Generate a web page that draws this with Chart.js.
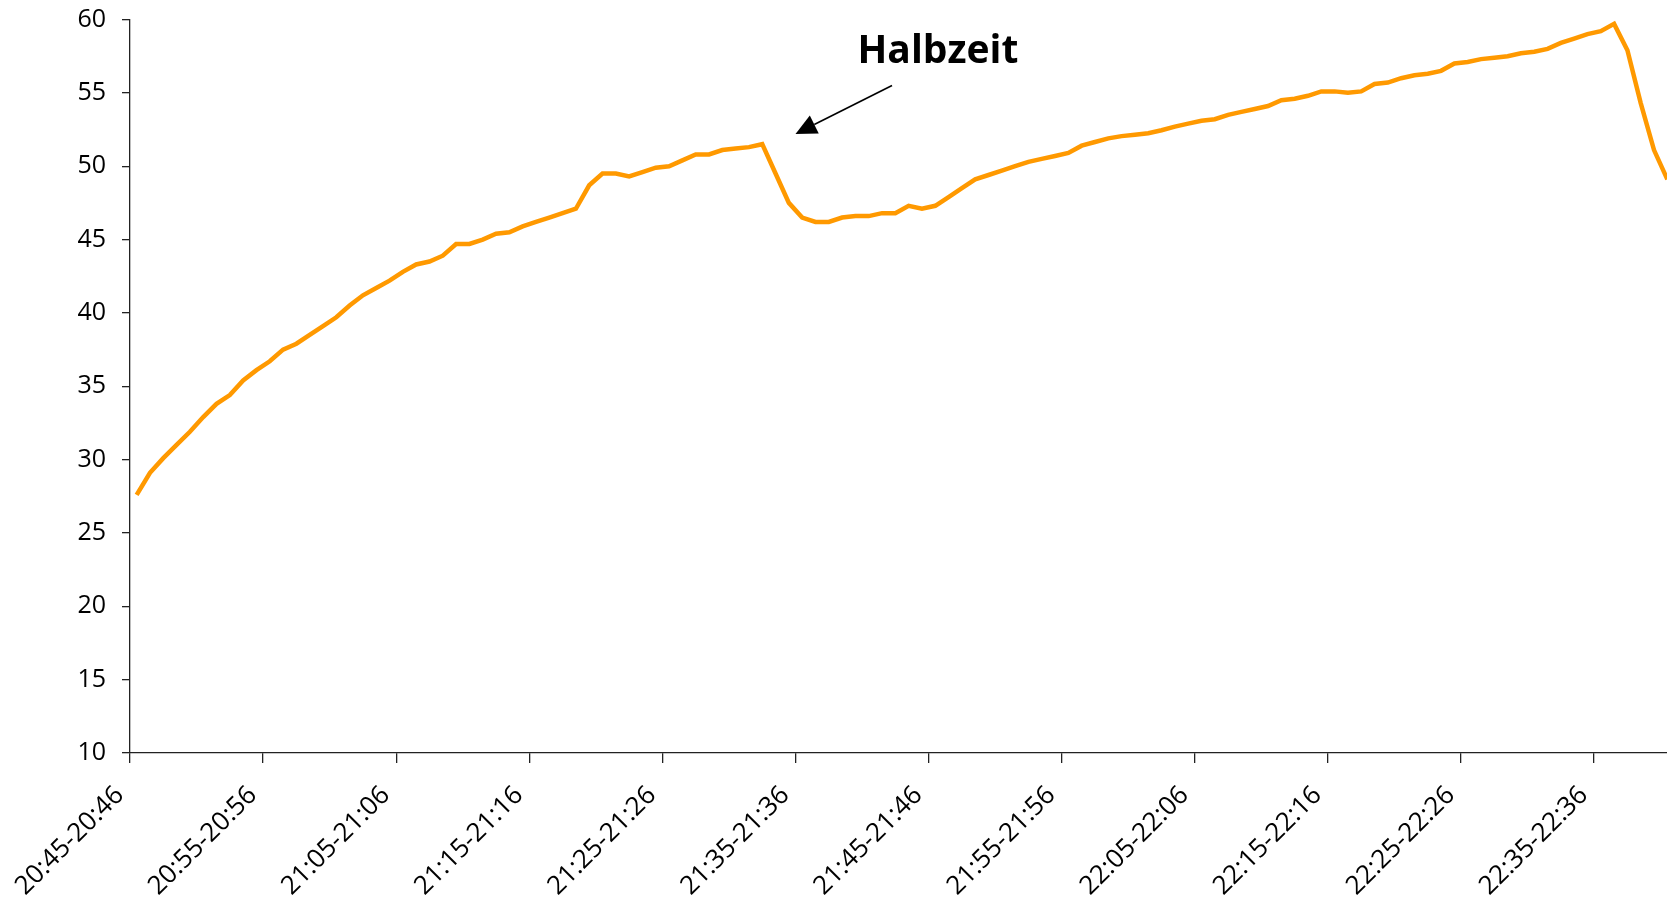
<!DOCTYPE html>
<html>
<head>
<meta charset="utf-8">
<script src="https://cdn.jsdelivr.net/npm/chart.js@4.4.1/dist/chart.umd.min.js"></script>
<style>
  html, body { margin: 0; padding: 0; background: #fff; overflow: hidden; }
  #wrap { width: 1680px; height: 900px; }
</style>
</head>
<body>
<div id="wrap"><canvas id="chart" width="1680" height="900"></canvas></div>
<script>
// one reading per minute, first slot is 20:45-20:46
const startHour = 20;
const startMinute = 45;

// temperature readings (°C)
const temperatures = [
    27.6, 29.1, 30.1, 31.0, 31.9, 32.9, 33.8, 34.4, 35.4, 36.1,
    36.7, 37.5, 37.9, 38.5, 39.1, 39.7, 40.5, 41.2, 41.7, 42.2,
    42.8, 43.3, 43.5, 43.9, 44.7, 44.7, 45.0, 45.4, 45.5, 45.9,
    46.2, 46.5, 46.8, 47.1, 48.7, 49.5, 49.5, 49.3, 49.6, 49.9,
    50.0, 50.4, 50.8, 50.8, 51.1, 51.2, 51.3, 51.5, 49.5, 47.5,
    46.5, 46.2, 46.2, 46.5, 46.6, 46.6, 46.8, 46.8, 47.3, 47.1,
    47.3, 47.9, 48.5, 49.1, 49.4, 49.7, 50.0, 50.3, 50.5, 50.7,
    50.9, 51.4, 51.65, 51.9, 52.05, 52.15, 52.25, 52.45, 52.7, 52.9,
    53.1, 53.2, 53.5, 53.7, 53.9, 54.1, 54.5, 54.6, 54.8, 55.1,
    55.1, 55.0, 55.1, 55.6, 55.7, 56.0, 56.2, 56.3, 56.5, 57.0,
    57.1, 57.3, 57.4, 57.5, 57.7, 57.8, 58.0, 58.4, 58.7, 59.0,
    59.2, 59.7, 57.9, 54.3, 51.1, 49.1
];

const yMin = 10;
const yMax = 60;
const yStep = 5;
const labelEvery = 10;

// "Halbzeit" note, in data units (category index, °C)
const noteText = 'Halbzeit';
const noteAt = [60.2, 57.8];
const arrowFrom = [56.75, 55.5];
const arrowTip = [49.5, 52.2];

const pad = n => String(n).padStart(2, '0');
const slotLabel = i => {
    const a = startHour * 60 + startMinute + i;
    const b = a + 1;
    return pad(Math.floor(a / 60)) + ':' + pad(a % 60) + '-' + pad(Math.floor(b / 60)) + ':' + pad(b % 60);
};
const labels = temperatures.map((_, i) => slotLabel(i));

const axisColor = '#222';

const halbzeitNote = {
    id: 'halbzeitNote',
    afterDatasetsDraw(chart) {
        const { ctx, scales: { x, y } } = chart;
        const tx = x.getPixelForValue(arrowTip[0]), ty = y.getPixelForValue(arrowTip[1]);
        const fx = x.getPixelForValue(arrowFrom[0]), fy = y.getPixelForValue(arrowFrom[1]);
        const ang = Math.atan2(fy - ty, fx - tx);
        const headLen = 21, headHalf = 10;
        const bx = tx + Math.cos(ang) * headLen, by = ty + Math.sin(ang) * headLen;

        ctx.save();
        ctx.strokeStyle = '#000';
        ctx.fillStyle = '#000';
        ctx.lineWidth = 1.6;
        ctx.beginPath();
        ctx.moveTo(fx, fy);
        ctx.lineTo(bx, by);
        ctx.stroke();

        ctx.beginPath();
        ctx.moveTo(tx, ty);
        ctx.lineTo(bx - Math.sin(ang) * headHalf, by + Math.cos(ang) * headHalf);
        ctx.lineTo(bx + Math.sin(ang) * headHalf, by - Math.cos(ang) * headHalf);
        ctx.closePath();
        ctx.fill();

        ctx.font = "bold 39px 'Open Sans', sans-serif";
        ctx.textAlign = 'center';
        ctx.textBaseline = 'middle';
        ctx.fillText(noteText, x.getPixelForValue(noteAt[0]), y.getPixelForValue(noteAt[1]));
        ctx.restore();
    }
};

Chart.defaults.font.family = "'Open Sans', sans-serif";
Chart.defaults.color = '#000';

new Chart(document.getElementById('chart'), {
    type: 'line',
    data: {
        labels: labels,
        datasets: [{
            data: temperatures,
            borderColor: '#FF9900',
            borderWidth: 4.5,
            pointRadius: 0,
            tension: 0,
            fill: false
        }]
    },
    options: {
        responsive: false,
        animation: false,
        layout: { padding: { top: 19.5, right: 6, bottom: 0, left: 0 } },
        plugins: {
            legend: { display: false },
            tooltip: { enabled: false }
        },
        scales: {
            x: {
                type: 'category',
                offset: true,
                afterFit: s => {
                    s.height = 147;
                    s.paddingLeft = 0;
                    s.paddingRight = 0;
                },
                border: { display: true, color: axisColor, width: 1.3 },
                grid: {
                    offset: true,
                    drawOnChartArea: false,
                    tickLength: 10,
                    lineWidth: 1.3,
                    color: c => c.index % labelEvery === 0 ? axisColor : 'rgba(0,0,0,0)'
                },
                ticks: {
                    autoSkip: false,
                    maxRotation: 45,
                    minRotation: 45,
                    labelOffset: -17,
                    padding: 17,
                    font: { size: 26 },
                    callback: (v, i) => i % labelEvery === 0 ? labels[i] : ''
                }
            },
            y: {
                min: yMin,
                max: yMax,
                afterFit: s => {
                    s.width = 130;
                    s.paddingTop = 0;
                    s.paddingBottom = 0;
                },
                border: { display: true, color: axisColor, width: 1.3 },
                grid: {
                    drawOnChartArea: false,
                    tickLength: 8,
                    lineWidth: 1.3,
                    color: axisColor
                },
                ticks: {
                    stepSize: yStep,
                    padding: 16,
                    font: { size: 25 }
                }
            }
        }
    },
    plugins: [halbzeitNote]
});
</script>
</body>
</html>
